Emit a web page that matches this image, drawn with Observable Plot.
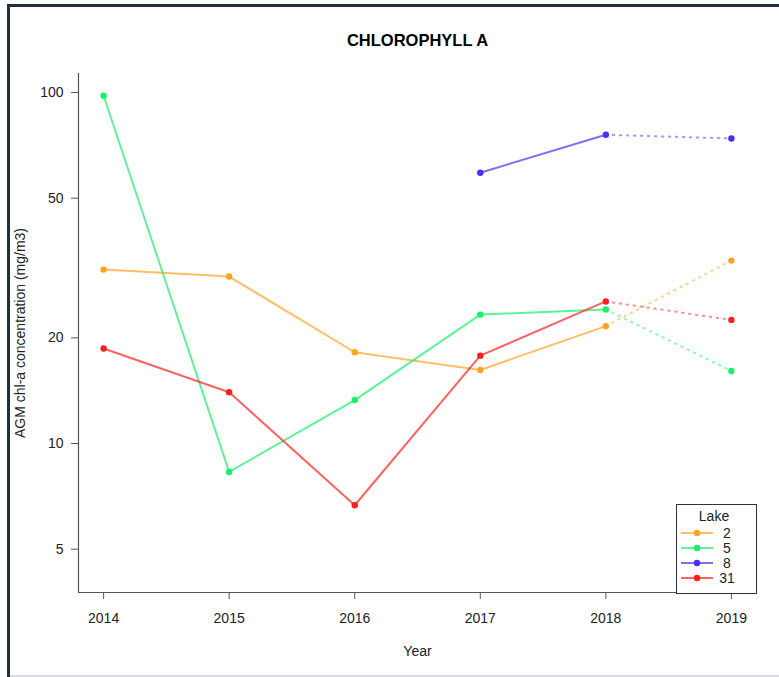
<!DOCTYPE html>
<html>
<head>
<meta charset="utf-8">
<script src="https://cdn.jsdelivr.net/npm/d3@7"></script>
<script src="https://cdn.jsdelivr.net/npm/@observablehq/plot@0.6"></script>
<style>
  body { margin: 0; background: #fff; }
  #wrap { position: relative; width: 779px; height: 677px; overflow: hidden; background: #fff; }
  #wrap svg { position: absolute; left: 0; top: 0; }
  .edge { position: absolute; }
</style>
</head>
<body>
<div id="wrap">
  <div class="edge" style="left:7px;top:4px;width:772px;height:3px;background:#1f2f3d"></div>
  <div class="edge" style="left:7px;top:4px;width:3px;height:673px;background:#1f2f3d"></div>
  <div class="edge" style="left:10px;top:675px;width:769px;height:2px;background:#d6dce2"></div>
</div>
<script>
// ---- data ----
const years = [2014, 2015, 2016, 2017, 2018, 2019];
const lakes = ["2", "5", "8", "31"];
const lake2  = [31.3, 29.9, 18.2, 16.2, 21.6, 33.2];
const lake5  = [97.9, 8.3, 13.3, 23.3, 24.1, 16.1];
const lake8  = [null, null, null, 59.1, 75.8, 74.0];
const lake31 = [18.65, 14.0, 6.67, 17.8, 25.4, 22.5];
const yTicks = [5, 10, 20, 50, 100];
const lakeColors = ["#FFA41F", "#17F06B", "#4F2CFF", "#FF1F1F"];
const title = "CHLOROPHYLL A";
const xLabel = "Year";
const yLabel = "AGM chl-a concentration (mg/m3)";
const legendTitle = "Lake";

const series = {"2": lake2, "5": lake5, "8": lake8, "31": lake31};
const rows = lakes.flatMap(l => years.map((yr, i) => ({year: yr, value: series[l][i], lake: l})))
  .filter(d => d.value != null);
const solid = rows.filter(d => d.year <= 2018);
const dotted = rows.filter(d => d.year >= 2018);

const xDomain = [2013.8, 2019.2];
const yDomain = [3.763, 113.3];
const axisColor = "#555";

const chart = Plot.plot({
  width: 779,
  height: 677,
  marginLeft: 78,
  marginRight: 23,
  marginTop: 73,
  marginBottom: 85,
  style: {fontFamily: "'Liberation Sans', Arial, sans-serif", fontSize: "14px", color: "#222", background: "transparent"},
  x: {domain: xDomain},
  y: {type: "log", domain: yDomain},
  color: {domain: lakes, range: lakeColors},
  marks: [
    Plot.ruleX([xDomain[0]], {stroke: axisColor, strokeWidth: 1.2}),
    Plot.ruleY([yDomain[0]], {stroke: axisColor, strokeWidth: 1.2}),
    Plot.axisX({ticks: years, tickFormat: d => String(d), tickSize: 7, tickPadding: 14, label: null, stroke: axisColor, fill: "#222", fontSize: 14}),
    Plot.axisY({ticks: yTicks, tickFormat: d => String(d), tickSize: 7, tickPadding: 8, label: null, stroke: axisColor, fill: "#222", fontSize: 14}),
    Plot.line(dotted, {x: "year", y: "value", z: "lake", stroke: "lake", strokeWidth: 2, strokeOpacity: 0.5, strokeDasharray: "1.5,5.5"}),
    Plot.line(solid, {x: "year", y: "value", z: "lake", stroke: "lake", strokeWidth: 2, strokeOpacity: 0.7}),
    Plot.dot(rows, {x: "year", y: "value", fill: "lake", r: 3.2}),
    Plot.text([title], {frameAnchor: "top", lineAnchor: "middle", dy: -33, fontWeight: "bold", fontSize: 16.5, fill: "#000"}),
    Plot.text([xLabel], {frameAnchor: "bottom", lineAnchor: "middle", dy: 59, fontSize: 14, fill: "#222"}),
    Plot.text([yLabel], {frameAnchor: "left", textAnchor: "middle", lineAnchor: "middle", dx: -58, rotate: -90, fontSize: 14, fill: "#222"})
  ]
});

document.getElementById("wrap").appendChild(chart);

// legend (inside the plot, bottom right)
const svg = d3.select(chart);
const lg = svg.append("g").attr("transform", "translate(676,504)")
  .attr("font-family", "'Liberation Sans', Arial, sans-serif").attr("font-size", 14);
lg.append("rect").attr("x", 0.5).attr("y", 0.5).attr("width", 80).attr("height", 89)
  .attr("fill", "white").attr("stroke", "#333").attr("stroke-width", 1);
lg.append("text").attr("x", 38).attr("y", 12).attr("text-anchor", "middle")
  .attr("dominant-baseline", "central").attr("fill", "#222").text(legendTitle);
lakes.forEach((l, i) => {
  const yy = 29 + i * 15;
  lg.append("line").attr("x1", 5).attr("x2", 37).attr("y1", yy).attr("y2", yy)
    .attr("stroke", lakeColors[i]).attr("stroke-width", 2).attr("stroke-opacity", 0.7);
  lg.append("circle").attr("cx", 21).attr("cy", yy).attr("r", 3.2).attr("fill", lakeColors[i]);
  lg.append("text").attr("x", 51).attr("y", yy).attr("dominant-baseline", "central")
    .attr("fill", "#222").text(l);
});
</script>
</body>
</html>
